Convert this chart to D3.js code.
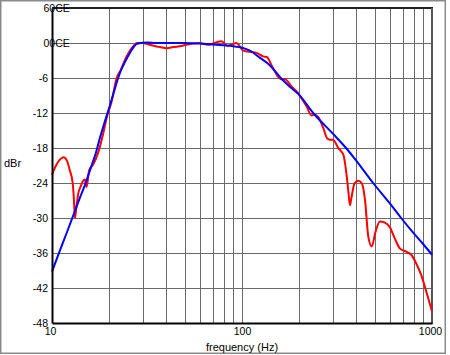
<!DOCTYPE html>
<html>
<head>
<meta charset="utf-8">
<script src="https://cdn.jsdelivr.net/npm/d3@7/dist/d3.min.js"></script>
<style>
  html, body { margin: 0; padding: 0; background: #fff; }
  svg { display: block; }
  text { font-family: "Liberation Sans", Arial, sans-serif; fill: #000; }
</style>
</head>
<body>
<svg id="chart" width="450" height="355"></svg>
<script>
// ---- data ----
const gridFreqs = [20, 30, 40, 50, 60, 70, 80, 90, 100, 200, 300, 400, 500, 600, 700, 800, 900];
const xTickValues = [10, 100, 1000];
const xTickLabels = ["10", "100", "1000"];
const yTickValues = [6, 0, -6, -12, -18, -24, -30, -36, -42, -48];
const yTickLabels = ["60CE", "00CE", "-6", "-12", "-18", "-24", "-30", "-36", "-42", "-48"];

// measured response (red)
const redFreq = [10, 10.5, 11, 11.5, 12, 12.4, 12.85, 13.05, 13.2, 13.4, 13.75, 14.2, 14.6, 14.9, 15.2, 15.7, 16.5, 17.5, 18.6, 19.5, 20.5, 21.9, 23, 24.7, 26, 27, 28, 30, 32, 35.5, 37, 40, 43.5, 48, 51, 55, 60, 66, 69, 73, 78, 84, 89, 93.5, 97.5, 101.5, 110, 119.5, 129, 135, 144, 149, 155, 162, 168, 183, 197.5, 206, 219, 232, 241, 252, 268, 280, 290, 301, 322, 333, 342, 356, 363, 370, 375, 391, 410, 427, 444, 462, 482, 502, 532, 565, 600, 637, 677, 734, 778, 826, 878, 933, 1000];
const redDb = [-22.6, -21, -20, -19.6, -20.2, -21.8, -24, -27, -30, -28.5, -25.8, -24.5, -23.6, -23.4, -24.7, -21.8, -20.8, -18.8, -15.5, -12.5, -10.3, -6, -4.6, -2.3, -1.1, -0.4, 0, 0, -0.2, -0.6, -0.7, -0.9, -0.7, -0.5, -0.3, -0.1, 0, -0.3, -0.2, 0.1, 0.3, -0.5, -0.2, 0, -0.6, -1.3, -1.5, -1.7, -2.3, -2.4, -4.0, -4.9, -5.8, -6.2, -6.2, -7.5, -8.6, -9.5, -10.9, -12.4, -12.3, -12.7, -14.6, -16.3, -16.6, -16.6, -18.05, -18.6, -19.2, -22.9, -25.5, -27.8, -26.9, -24.05, -23.6, -24.05, -26.9, -33.2, -34.9, -32.6, -30.6, -30.8, -31.6, -33.5, -35.2, -35.8, -36.3, -37.8, -39.8, -42.6, -46];

// target response (blue)
const blueFreq = [10, 11, 12, 13, 14, 15, 16, 17, 18, 19, 20, 21, 22, 23, 24, 25, 26, 27, 28, 30, 32, 35, 40, 50, 60, 70, 80, 90, 100, 110, 125, 140, 160, 180, 200, 237, 300, 353, 400, 490, 600, 688, 800, 900, 1000];
const blueDb = [-39.2, -35.6, -32.4, -29.4, -26.6, -24.1, -21.4, -18.9, -15.9, -13.4, -11.1, -8.8, -6.6, -4.8, -3.5, -2.4, -1.4, -0.6, -0.15, 0.05, 0.1, 0.0, 0, 0, -0.1, -0.25, -0.4, -0.55, -0.8, -1.3, -2.6, -3.8, -6, -7.6, -8.9, -12, -15.5, -18, -20.2, -24, -27.5, -30, -32.6, -34.5, -36.3];

// ---- layout ----
const svg = d3.select("#chart");
const mLeft = 52, mRight = 432, mTop = 8, mBottom = 323;

const x = d3.scaleLog().domain([10, 1000]).range([mLeft, mRight]);
const y = d3.scaleLinear().domain([-48, 6]).range([mBottom, mTop]);

// outer frame
svg.append("rect")
  .attr("x", 0.75).attr("y", 0.75).attr("width", 444.5).attr("height", 352.5)
  .attr("fill", "none").attr("stroke", "#8a8a8a").attr("stroke-width", 1.5);

// grid
const g = svg.append("g");
g.selectAll("line.v").data(gridFreqs).enter().append("line")
  .attr("x1", d => Math.round(x(d)) + 0.5).attr("x2", d => Math.round(x(d)) + 0.5)
  .attr("y1", mTop).attr("y2", mBottom)
  .attr("stroke", "#6a6a6a").attr("stroke-width", 1);
g.selectAll("line.h").data(yTickValues.filter(v => v !== 6 && v !== -48)).enter().append("line")
  .attr("x1", mLeft).attr("x2", mRight)
  .attr("y1", d => Math.round(y(d)) + 0.5).attr("y2", d => Math.round(y(d)) + 0.5)
  .attr("stroke", "#6a6a6a").attr("stroke-width", 1);

// plot frame
svg.append("line").attr("x1", mLeft).attr("x2", mRight + 1).attr("y1", mTop).attr("y2", mTop)
  .attr("stroke", "#222").attr("stroke-width", 2);
svg.append("line").attr("x1", mRight).attr("x2", mRight).attr("y1", mTop).attr("y2", mBottom + 1)
  .attr("stroke", "#555").attr("stroke-width", 2);

// curves
const redData = redFreq.map((f, i) => [f, redDb[i]]);
const blueData = blueFreq.map((f, i) => [f, blueDb[i]]);
const line = d3.line().x(d => x(d[0])).y(d => y(d[1])).curve(d3.curveMonotoneX);

svg.append("path").datum(redData).attr("d", line)
  .attr("fill", "none").attr("stroke", "#ff0000").attr("stroke-width", 2).attr("stroke-linejoin", "round");
svg.append("path").datum(blueData).attr("d", line)
  .attr("fill", "none").attr("stroke", "#0000ff").attr("stroke-width", 2).attr("stroke-linejoin", "round");

// axes (left, bottom) via d3 axes
const yAxis = d3.axisLeft(y).tickValues(yTickValues).tickSize(0).tickPadding(4)
  .tickFormat((d, i) => yTickLabels[i]);
const ya = svg.append("g").attr("transform", `translate(${mLeft},0)`).call(yAxis);
ya.select(".domain").attr("stroke", "#000").attr("stroke-width", 2);
ya.selectAll("text").style("font-size", "10.5px").style("font-family", '"Liberation Sans", Arial, sans-serif');
ya.selectAll(".tick text").filter((d) => d === 6 || d === 0)
  .attr("text-anchor", "start").attr("x", -8.5);

const xAxis = d3.axisBottom(x).tickValues(xTickValues).tickSize(0).tickPadding(5)
  .tickFormat((d, i) => xTickLabels[i]);
const xa = svg.append("g").attr("transform", `translate(0,${mBottom})`).call(xAxis);
xa.select(".domain").attr("stroke", "#000").attr("stroke-width", 2);
xa.selectAll("text").style("font-size", "10.5px").style("font-family", '"Liberation Sans", Arial, sans-serif');
xa.selectAll(".tick text").filter(d => d === 10).attr("x", -2);
xa.selectAll(".tick text").filter(d => d === 1000).attr("x", -2);

// titles
svg.append("text").attr("x", 242).attr("y", 350.5).attr("text-anchor", "middle")
  .style("font-size", "11px").text("frequency (Hz)");
svg.append("text").attr("x", 4).attr("y", 166.5)
  .style("font-size", "11px").text("dBr");
</script>
</body>
</html>
